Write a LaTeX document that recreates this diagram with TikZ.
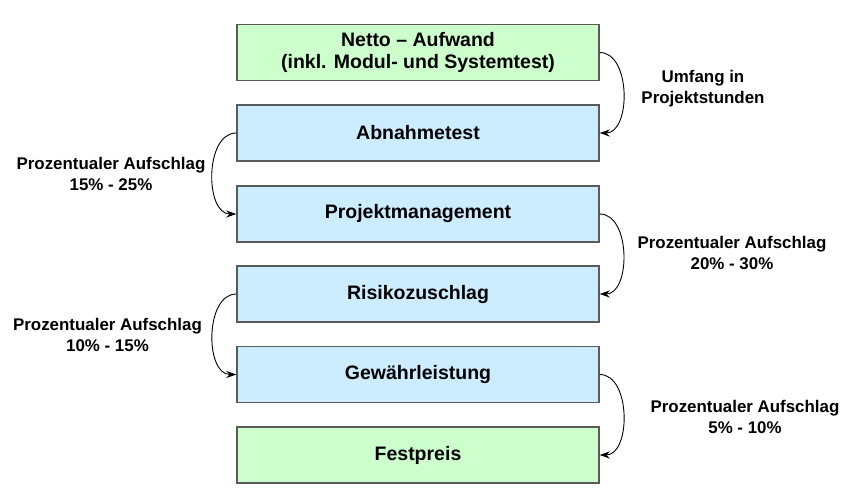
\documentclass[tikz,border=0pt]{standalone}
\usepackage{fontspec}
\setmainfont{Liberation Sans}
\usetikzlibrary{arrows.meta}
\definecolor{boxgreen}{HTML}{CCFFCC}
\definecolor{boxblue}{HTML}{CCECFF}
\definecolor{boxline}{HTML}{5A5A5A}
\tikzset{
  stepbox/.style={draw=boxline, line width=1.5pt, minimum width=362pt, minimum height=56pt,
    inner sep=0pt, align=center, font=\bfseries\fontsize{19.5}{22}\selectfont},
  greenbox/.style={stepbox, fill=boxgreen},
  bluebox/.style={stepbox, fill=boxblue},
  lbl/.style={align=center, inner sep=0pt, font=\bfseries\fontsize{16.9}{21}\selectfont},
  conn/.style={-{Stealth[length=10pt,width=7pt]}, line width=0.9pt, black}
}
\begin{document}
\begin{tikzpicture}[x=1pt,y=-1pt]
\useasboundingbox (0,0) rectangle (855,503);
\node[greenbox] (b1) at (418,52.5) {Netto -- Aufwand\\(inkl. Modul- und Systemtest)};
\node[bluebox] (b2) at (418,133) {Abnahmetest};
\node[bluebox] (b3) at (418,214) {Projektmanagement};
\node[bluebox] (b4) at (418,294) {Risikozuschlag};
\node[bluebox] (b5) at (418,374.5) {Gewährleistung};
\node[greenbox] (b6) at (418,455) {Festpreis};
\draw[conn] (b1.east) to[out=0,in=0] (b2.east);
\draw[conn] (b2.west) to[out=180,in=180] (b3.west);
\draw[conn] (b3.east) to[out=0,in=0] (b4.east);
\draw[conn] (b4.west) to[out=180,in=180] (b5.west);
\draw[conn] (b5.east) to[out=0,in=0] (b6.east);
\node[lbl] (l1) at (703,88.5) {Umfang in\\Projektstunden};
\node[lbl] (l2) at (111,174) {Prozentualer Aufschlag\\15\% - 25\%};
\node[lbl] (l3) at (732,253) {Prozentualer Aufschlag\\20\% - 30\%};
\node[lbl] (l4) at (107.5,335) {Prozentualer Aufschlag\\10\% - 15\%};
\node[lbl] (l5) at (745,416.5) {Prozentualer Aufschlag\\5\% - 10\%};
\end{tikzpicture}
\end{document}
